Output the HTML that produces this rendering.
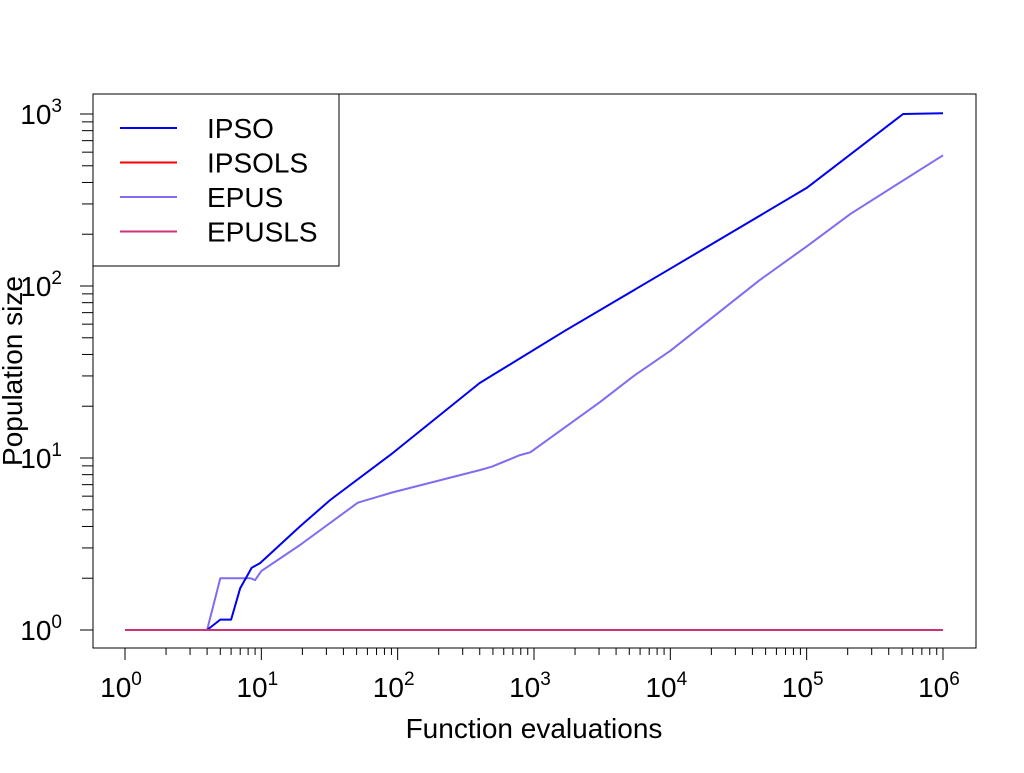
<!DOCTYPE html>
<html><head><meta charset="utf-8"><style>
body{margin:0;background:#fff;}
svg text{font-family:"Liberation Sans",sans-serif;fill:#000;}
</style></head><body>
<svg id="chart" width="1024" height="768" viewBox="0 0 1024 768" xmlns="http://www.w3.org/2000/svg">
<rect x="0" y="0" width="1024" height="768" fill="#fff"/>
<g id="series"></g>
<rect x="93" y="94" width="883" height="554" fill="none" stroke="#000" stroke-width="1"/>
<g id="axes"></g>
<text x="534" y="738" font-size="28" text-anchor="middle">Function evaluations</text>
<text x="0" y="0" font-size="28" text-anchor="middle" transform="translate(22,371) rotate(-90)">Population size</text>
<g id="legend">
<rect x="93" y="94" width="246" height="172" fill="#fff" stroke="#000" stroke-width="1"/>
</g>
</svg>
<script>
const ipsoX = [1, 4, 5, 6, 7, 8.5, 9.8, 19.2, 32, 88, 400, 1690, 10000, 100000, 510000, 1000000];
const ipsoY = [1, 1, 1.15, 1.15, 1.75, 2.3, 2.45, 4.0, 5.7, 10.4, 27.3, 55, 126, 372, 1000, 1010];
const epusX = [1, 4, 5, 8.3, 9, 10, 19.2, 51, 91, 400, 490, 790, 940, 3060, 5400, 10000, 45000, 100000, 210000, 1000000];
const epusY = [1, 1, 2, 2, 1.95, 2.2, 3.12, 5.5, 6.3, 8.5, 8.9, 10.4, 10.8, 21.2, 30, 42, 108, 170, 263, 575];
const ipsolsX = [1, 1000000];
const ipsolsY = [1, 1];
const epuslsX = [1, 1000000];
const epuslsY = [1, 1];
const xTickExp = [0, 1, 2, 3, 4, 5, 6];
const yTickExp = [0, 1, 2, 3];
const legendLabels = ["IPSO", "IPSOLS", "EPUS", "EPUSLS"];

const NS = "http://www.w3.org/2000/svg";
function sx(v){ return 125 + 136.33 * Math.log10(v); }
function sy(v){ return 630 - 172 * Math.log10(v); }
function mk(tag, attrs, parent){
  const e = document.createElementNS(NS, tag);
  for (const k in attrs) e.setAttribute(k, attrs[k]);
  parent.appendChild(e); return e;
}
const axesG = document.getElementById('axes');
const xl = mk('line', {x1: sx(1), x2: sx(1e6), y1: 648, y2: 648, stroke: '#000'}, axesG);


xTickExp.forEach((p, i) => {
  const v = Math.pow(10, p);
  const t = mk('line', {x1: sx(v), x2: sx(v), y1: 648, y2: 660, stroke: '#000'}, axesG);
  
  
  const tx = mk('text', {x: sx(v) - 4, y: 697, 'font-size': 28, 'text-anchor': 'middle'}, axesG);
  
  
  tx.textContent = '10';
  const sp = mk('tspan', {dy: -12, 'font-size': 19}, tx); sp.textContent = String(p);
  if (i < xTickExp.length - 1) {
    for (let m = 2; m <= 9; m++) {
      const mt = mk('line', {x1: sx(m * v), x2: sx(m * v), y1: 648, y2: 655, stroke: '#000'}, axesG);
      
      
    }
  }
});
const yl = mk('line', {x1: 93, x2: 93, y1: sy(1), y2: sy(1000), stroke: '#000'}, axesG);


yTickExp.forEach((p, i) => {
  const v = Math.pow(10, p);
  const t = mk('line', {x1: 80, x2: 93, y1: sy(v), y2: sy(v), stroke: '#000'}, axesG);
  
  
  const tx = mk('text', {x: 62, y: sy(v) + 10, 'font-size': 28, 'text-anchor': 'end'}, axesG);
  
  
  tx.textContent = '10';
  const sp = mk('tspan', {dy: -12, 'font-size': 19}, tx); sp.textContent = String(p);
  if (i < yTickExp.length - 1) {
    for (let m = 2; m <= 9; m++) {
      const mt = mk('line', {x1: 82, x2: 93, y1: sy(m * v), y2: sy(m * v), stroke: '#000'}, axesG);
      
      
    }
  }
});
const seriesG = document.getElementById('series');
const defs = [
  {xs: ipsolsX, ys: ipsolsY, c: '#ff0000', n: 'ipsols-line'},
  {xs: epuslsX, ys: epuslsY, c: '#cc3377', n: 'epusls-line'},
  {xs: epusX, ys: epusY, c: '#7f6cf2', n: 'epus-line'},
  {xs: ipsoX, ys: ipsoY, c: '#0000ee', n: 'ipso-line'}
];
defs.forEach(d => {
  const pts = d.xs.map((x, i) => sx(x).toFixed(1) + ',' + sy(d.ys[i]).toFixed(1)).join(' ');
  const pl = mk('polyline', {points: pts, fill: 'none', stroke: d.c, 'stroke-width': 2, 'stroke-linejoin': 'round'}, seriesG);
  
  
});
const epuslsTop = mk('polyline', {points: epuslsX.map((x, i) => sx(x) + ',' + sy(epuslsY[i])).join(' '), fill: 'none', stroke: '#cc3377', 'stroke-width': 2}, seriesG);


const lg = document.getElementById('legend');
const lcols = ['#0000ee', '#ff0000', '#7f6cf2', '#cc3377'];
legendLabels.forEach((lab, i) => {
  const y = 128 + i * 34.5;
  const l = mk('line', {x1: 120, x2: 177, y1: y, y2: y, stroke: lcols[i], 'stroke-width': 2}, lg);
  
  
  const t = mk('text', {x: 207, y: y + 10, 'font-size': 28}, lg);
  
  
  t.textContent = lab;
});
</script>
</body></html>
